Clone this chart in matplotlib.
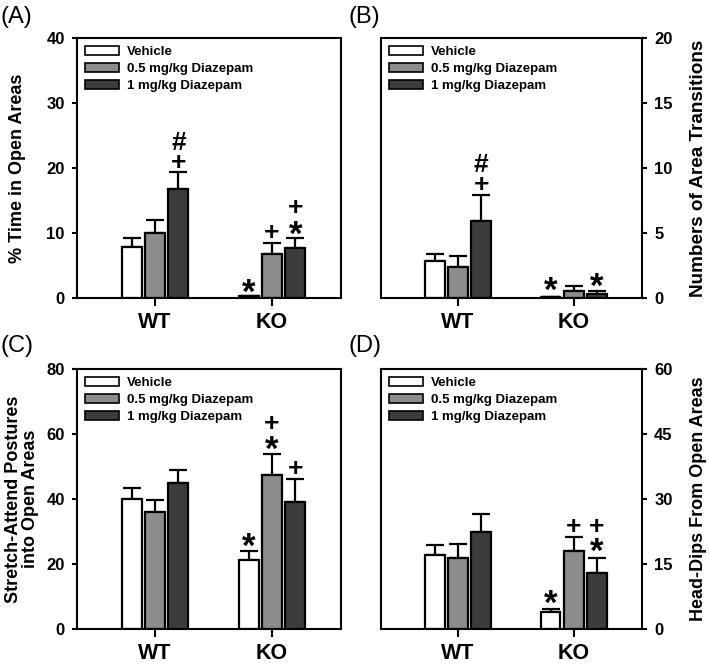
import numpy as np
import matplotlib
matplotlib.use('Agg')
import matplotlib.pyplot as plt
from matplotlib.patches import Patch

plt.rcParams['font.family'] = ['Liberation Sans', 'DejaVu Sans']
plt.rcParams['font.weight'] = 'bold'

groups = ['WT', 'KO']
treatments = ['Vehicle', '0.5 mg/kg Diazepam', '1 mg/kg Diazepam']
colors = ['#ffffff', '#8c8c8c', '#3c3c3c']

# mean values per treatment: [WT, KO]
time_mean = [[7.85, 0.25], [10.0, 6.7], [16.7, 7.75]]
time_err = [[1.35, 0.0], [2.05, 1.7], [2.7, 1.55]]
trans_mean = [[2.82, 0.1], [2.38, 0.56], [5.9, 0.33]]
trans_err = [[0.6, 0.0], [0.88, 0.36], [2.05, 0.21]]
sap_mean = [[39.9, 21.3], [36.0, 47.5], [44.8, 39.0]]
sap_err = [[3.6, 2.7], [3.7, 6.3], [4.1, 7.2]]
dips_mean = [[17.0, 4.0], [16.4, 18.1], [22.5, 13.0]]
dips_err = [[2.3, 0.7], [3.2, 3.2], [4.0, 3.5]]

# significance marks: (group, treatment, y of the (lowest) symbol, symbol)
time_marks = [(0, 2, 21.2, '#\n+'), (1, 0, 1.9, '*'), (1, 1, 10.4, '+'),
              (1, 2, 10.9, '*'), (1, 2, 14.3, '+')]
trans_marks = [(0, 2, 8.9, '#\n+'), (1, 0, 1.1, '*'), (1, 2, 1.4, '*')]
sap_marks = [(1, 0, 27.4, '*'), (1, 1, 57.3, '*'), (1, 1, 63.8, '+'), (1, 2, 50.2, '+')]
dips_marks = [(1, 0, 7.5, '*'), (1, 1, 24.2, '+'), (1, 2, 19.4, '*'), (1, 2, 24.2, '+')]

panels = [
    ('(A)', time_mean, time_err, time_marks, 40, 10, '% Time in Open Areas', 'left'),
    ('(B)', trans_mean, trans_err, trans_marks, 20, 5, 'Numbers of Area Transitions', 'right'),
    ('(C)', sap_mean, sap_err, sap_marks, 80, 20, 'Stretch-Attend Postures\ninto Open Areas', 'left'),
    ('(D)', dips_mean, dips_err, dips_marks, 60, 15, 'Head-Dips From Open Areas', 'right'),
]

positions = [
    [77 / 709, 1 - 298 / 665, 264 / 709, 260 / 665],
    [381 / 709, 1 - 298 / 665, 261 / 709, 260 / 665],
    [77 / 709, 1 - 629 / 665, 264 / 709, 260 / 665],
    [381 / 709, 1 - 629 / 665, 261 / 709, 260 / 665],
]
label_pos = [(1 / 709, 1 - 17 / 665), (348 / 709, 1 - 17 / 665),
             (1 / 709, 1 - 346 / 665), (348 / 709, 1 - 346 / 665)]
ylabel_x = [-0.227, 1.215, -0.208, 1.215]
ylabel_fs = [13, 13.6, 13, 13]

# distance (in em) from a symbol's centre down to the bottom of its text box
sym_drop = {'+': 0.56, '*': 0.70, '#': 0.55}

fig = plt.figure(figsize=(7.09, 6.65), dpi=100)

x = np.array([1.0, 2.0])
width = 0.17
offsets = [-0.2, 0.0, 0.2]

for k, (tag, means, errs, marks, ymax, step, ylabel, side) in enumerate(panels):
    ax = fig.add_axes(positions[k])
    for i in range(3):
        ax.bar(x + offsets[i], means[i], width, color=colors[i], edgecolor='black',
               linewidth=1.6, label=treatments[i], zorder=2)
        ax.errorbar(x + offsets[i], means[i], yerr=[np.zeros(2), errs[i]], fmt='none',
                    ecolor='black', elinewidth=1.6, capsize=6.5, capthick=1.6, zorder=1)
    for g, t, yv, sym in marks:
        fs = 25 if sym == '*' else 19
        ax.annotate(sym, xy=(x[g] + offsets[t], yv),
                    xytext=(0, -sym_drop[sym[-1]] * fs), textcoords='offset points',
                    ha='center', va='bottom', multialignment='center', linespacing=0.77,
                    fontsize=fs, fontweight='bold')
    ax.set_xlim(0.333, 2.59)
    ax.set_ylim(0, ymax)
    if side == 'right':
        ax.yaxis.tick_right()
        ax.yaxis.set_label_position('right')
    yt = np.arange(0, ymax + 1, step)
    ax.set_yticks(yt)
    ax.set_yticklabels([str(v) for v in yt], fontsize=12, fontweight='bold')
    ax.set_xticks(x)
    ax.set_xticklabels(groups, fontsize=15.5, fontweight='bold')
    ax.tick_params(axis='y', direction='out', length=3.8, width=1.5, pad=5)
    ax.tick_params(axis='x', direction='out', length=5.5, width=1.5, pad=4.5)
    ax.set_ylabel(ylabel, fontsize=ylabel_fs[k], fontweight='bold', linespacing=1.0)
    ax.yaxis.set_label_coords(ylabel_x[k], 0.5)
    ax.yaxis.label.set_verticalalignment('center')
    for s in ax.spines.values():
        s.set_linewidth(1.5)
    handles = [Patch(facecolor=colors[i], edgecolor='black', linewidth=1.2) for i in range(3)]
    ax.legend(handles, treatments, loc='upper left', frameon=False,
              prop={'weight': 'bold', 'size': 9.5}, handlelength=2.6, handleheight=0.7,
              labelspacing=0.35, handletextpad=0.6, borderaxespad=0.2)
    fig.text(label_pos[k][0], label_pos[k][1], tag, fontsize=17, fontweight='normal',
             va='center', ha='left')

fig.savefig('out.png', dpi=100)
